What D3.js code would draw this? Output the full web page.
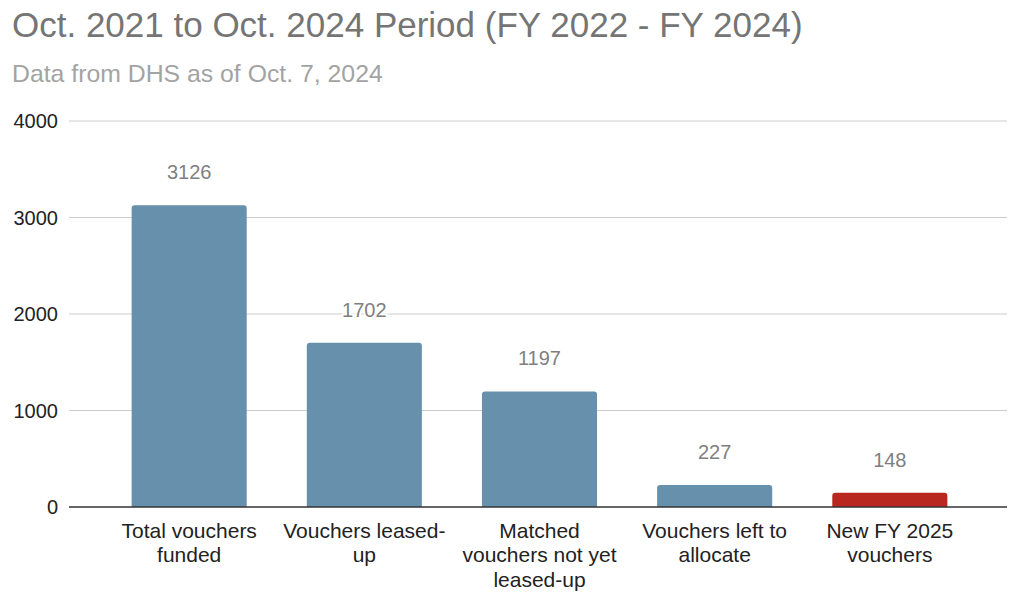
<!DOCTYPE html>
<html>
<head>
<meta charset="utf-8">
<script src="https://cdn.jsdelivr.net/npm/d3@7/dist/d3.min.js"></script>
<style>
  html, body { margin: 0; padding: 0; background: #fff; }
  svg { display: block; font-family: "Liberation Sans", Arial, sans-serif; }
</style>
</head>
<body>
<svg id="chart" width="1024" height="601"></svg>
<script>
// ---- data ----
const categories = ["Total vouchers funded", "Vouchers leased-up", "Matched vouchers not yet leased-up", "Vouchers left to allocate", "New FY 2025 vouchers"];
const categoryLines = [["Total vouchers", "funded"], ["Vouchers leased-", "up"], ["Matched", "vouchers not yet", "leased-up"], ["Vouchers left to", "allocate"], ["New FY 2025", "vouchers"]];
const values = [3126, 1702, 1197, 227, 148];
const barColors = ["#6790ac", "#6790ac", "#6790ac", "#6790ac", "#b8281e"];
const yTicks = [0, 1000, 2000, 3000, 4000];
const titleText = "Oct. 2021 to Oct. 2024 Period (FY 2022 - FY 2024)";
const subtitleText = "Data from DHS as of Oct. 7, 2024";

// ---- layout ----
const svg = d3.select("#chart");
const plotL = 69, plotR = 1007, plotT = 121, plotB = 507;

const x = d3.scaleBand().domain(categories).range([plotL + 1.5, plotR + 1.5]).paddingInner(0.343).paddingOuter(0.349);
const y = d3.scaleLinear().domain([0, 4000]).range([plotB, plotT]);

svg.append("text").attr("x", 12).attr("y", 37)
  .attr("font-size", 35).attr("fill", "#757575").text(titleText);
svg.append("text").attr("x", 12).attr("y", 82)
  .attr("font-size", 24.8).attr("fill", "#a3a3a3").text(subtitleText);

// gridlines
svg.append("g").selectAll("line").data(yTicks.filter(d => d !== 0)).join("line")
  .attr("x1", plotL).attr("x2", plotR)
  .attr("y1", d => y(d)).attr("y2", d => y(d))
  .attr("stroke", "#cccccc").attr("stroke-width", 1);

// y axis labels
svg.append("g").selectAll("text").data(yTicks).join("text")
  .attr("x", 58).attr("y", d => y(d)).attr("dy", "0.36em")
  .attr("text-anchor", "end").attr("font-size", 20).attr("fill", "#222")
  .text(d => d);

// bars with rounded top corners
const r = 3;
svg.append("g").selectAll("path").data(values).join("path")
  .attr("d", (d, i) => {
    const x0 = x(categories[i]), w = x.bandwidth(), y0 = y(d), yb = y(0);
    return `M${x0},${yb}V${y0 + r}Q${x0},${y0} ${x0 + r},${y0}H${x0 + w - r}Q${x0 + w},${y0} ${x0 + w},${y0 + r}V${yb}Z`;
  })
  .attr("fill", (d, i) => barColors[i]);

// baseline
svg.append("line").attr("x1", plotL).attr("x2", plotR)
  .attr("y1", y(0)).attr("y2", y(0))
  .attr("stroke", "#333").attr("stroke-width", 1.5);

// value labels
svg.append("g").selectAll("text").data(values).join("text")
  .attr("x", (d, i) => x(categories[i]) + x.bandwidth() / 2)
  .attr("y", d => y(d) - 26)
  .attr("text-anchor", "middle").attr("font-size", 20).attr("fill", "#7f7f7f")
  .attr("stroke", "#fff").attr("stroke-width", 4).attr("paint-order", "stroke")
  .text(d => d);

// category labels
const cat = svg.append("g").selectAll("text").data(categories).join("text")
  .attr("x", d => x(d) + x.bandwidth() / 2)
  .attr("y", 538)
  .attr("text-anchor", "middle").attr("font-size", 21).attr("fill", "#222");
cat.each(function(d, i) {
  const t = d3.select(this);
  categoryLines[i].forEach((ln, k) => {
    t.append("tspan").attr("x", x(d) + x.bandwidth() / 2).attr("dy", k === 0 ? 0 : 24.3).text(ln);
  });
});
</script>
</body>
</html>
